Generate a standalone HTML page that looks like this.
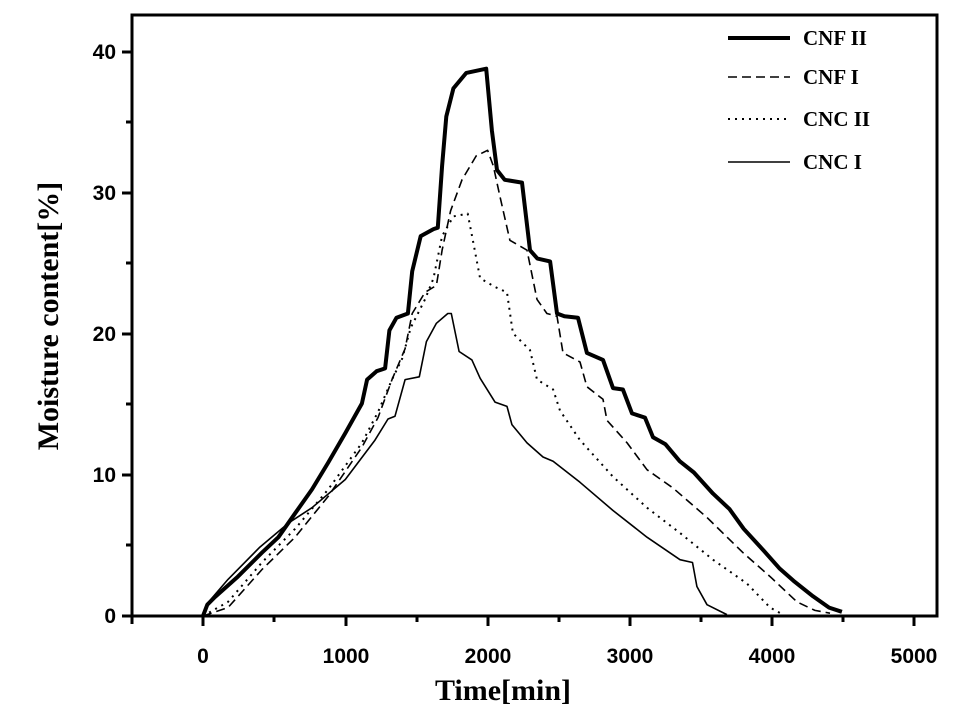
<!DOCTYPE html><html><head><meta charset="utf-8"><style>body{margin:0;background:#fff}</style></head><body>
<svg id="s" width="963" height="716" xmlns="http://www.w3.org/2000/svg" font-family="Liberation Sans, sans-serif">
<rect x="132" y="15" width="805" height="601" fill="none" stroke="#000" stroke-width="3"/>
<g stroke="#000" stroke-width="3">
<line x1="132" y1="616" x2="132" y2="624"/><line x1="203" y1="616" x2="203" y2="626"/><line x1="274" y1="616" x2="274" y2="622"/><line x1="346" y1="616" x2="346" y2="626"/><line x1="417" y1="616" x2="417" y2="622"/><line x1="488" y1="616" x2="488" y2="626"/><line x1="559" y1="616" x2="559" y2="622"/><line x1="630" y1="616" x2="630" y2="626"/><line x1="701" y1="616" x2="701" y2="622"/><line x1="772" y1="616" x2="772" y2="626"/><line x1="843" y1="616" x2="843" y2="622"/><line x1="914" y1="616" x2="914" y2="626"/>
<line x1="122" y1="616" x2="132" y2="616"/><line x1="122" y1="475" x2="132" y2="475"/><line x1="122" y1="334" x2="132" y2="334"/><line x1="122" y1="193" x2="132" y2="193"/><line x1="122" y1="52" x2="132" y2="52"/>
<line x1="126" y1="545" x2="132" y2="545"/><line x1="126" y1="404" x2="132" y2="404"/><line x1="126" y1="263" x2="132" y2="263"/><line x1="126" y1="122" x2="132" y2="122"/>
</g>
<g font-size="21" font-weight="bold" text-anchor="middle">
<text x="203" y="663">0</text><text x="346" y="663">1000</text><text x="488" y="663">2000</text><text x="630" y="663">3000</text><text x="772" y="663">4000</text><text x="914" y="663">5000</text>
</g>
<g font-size="21" font-weight="bold" text-anchor="end">
<text x="116" y="623">0</text><text x="116" y="482">10</text><text x="116" y="341">20</text><text x="116" y="200">30</text><text x="116" y="59">40</text>
</g>
<text x="503" y="700" font-family="Liberation Serif, serif" font-size="30" font-weight="bold" text-anchor="middle">Time[min]</text>
<text transform="translate(58,316) rotate(-90)" font-family="Liberation Serif, serif" font-size="30" font-weight="bold" text-anchor="middle">Moisture content[%]</text>
<g id="c" fill="none" stroke="#000" stroke-linejoin="round"></g>
<g font-family="Liberation Serif, serif" font-size="21" font-weight="bold">
<line x1="728" y1="38" x2="790" y2="38" stroke="#000" stroke-width="4"/><text x="803" y="45">CNF II</text>
<line x1="728" y1="77" x2="790" y2="77" stroke="#000" stroke-width="1.6" stroke-dasharray="9,5"/><text x="803" y="84">CNF I</text>
<line x1="728" y1="119" x2="790" y2="119" stroke="#000" stroke-width="2" stroke-dasharray="2,5"/><text x="803" y="126">CNC II</text>
<line x1="728" y1="162" x2="790" y2="162" stroke="#000" stroke-width="1.6"/><text x="803" y="169">CNC I</text>
</g>
</svg>
<script>
var X=function(t){return 203+t*0.1423},Y=function(v){return 616-v*14.07};
var S=[
[[[0,0],[30,0.8],[84,1.35],[245,2.8],[414,4.5],[530,5.6],[647,7.3],[766,9.0],[880,10.9],[1000,13],[1117,15.1],[1153,16.8],[1220,17.4],[1280,17.6],[1310,20.3],[1360,21.2],[1440,21.5],[1470,24.5],[1530,27],[1620,27.5],[1650,27.6],[1680,32],[1710,35.5],[1760,37.5],[1850,38.6],[1990,38.9],[2030,34.5],[2066,31.7],[2120,31],[2242,30.8],[2298,26],[2350,25.4],[2439,25.2],[2488,21.5],[2540,21.3],[2635,21.2],[2698,18.7],[2811,18.2],[2881,16.2],[2951,16.1],[3015,14.4],[3106,14.1],[3162,12.7],[3250,12.2],[3350,11.0],[3450,10.2],[3584,8.7],[3700,7.6],[3800,6.2],[3935,4.7],[4050,3.4],[4150,2.5],[4287,1.4],[4400,0.6],[4490,0.3]],4,""],
[[[0,0],[176,0.6],[414,3.3],[647,5.6],[880,8.5],[1117,12],[1230,14.1],[1328,16.8],[1420,19],[1470,21.5],[1560,23],[1640,23.5],[1680,26],[1740,28.8],[1820,31],[1920,32.7],[2000,33.1],[2040,32],[2087,29.8],[2157,26.7],[2277,26],[2347,22.5],[2417,21.5],[2488,21.3],[2530,18.7],[2649,18.05],[2698,16.3],[2811,15.4],[2839,13.9],[2980,12.3],[3120,10.4],[3303,9.1],[3542,7.0],[3795,4.5],[3985,2.8],[4174,1.0],[4300,0.4],[4406,0.2]],1.6,"9,5"],
[[[0,0],[176,1],[414,3.8],[647,6.2],[880,9],[1117,12.3],[1230,14.5],[1328,16.8],[1400,18.3],[1460,20.5],[1560,22.5],[1620,24],[1680,27],[1760,28.4],[1860,28.6],[1900,26.5],[1947,24],[2050,23.4],[2136,23],[2178,20.1],[2298,18.9],[2347,16.8],[2460,16.1],[2509,14.6],[2649,12.5],[2881,9.9],[3120,7.7],[3352,5.9],[3584,4.0],[3823,2.3],[3985,0.6],[4076,0.1]],2,"2,5"],
[[[0,0],[40,1],[176,2.6],[400,4.9],[600,6.6],[766,7.7],[1000,9.7],[1209,12.5],[1300,14],[1349,14.2],[1420,16.8],[1520,17],[1570,19.5],[1640,20.8],[1720,21.5],[1745,21.5],[1800,18.8],[1890,18.2],[1947,16.9],[2052,15.2],[2136,14.9],[2171,13.6],[2277,12.3],[2389,11.3],[2460,11],[2649,9.5],[2881,7.5],[3120,5.6],[3352,4.0],[3440,3.8],[3471,2.1],[3542,0.8],[3682,0.1]],1.6,""]];
var h="";
S.forEach(function(s){var p=s[0],w=s[1],d=s[2];
h+='<polyline stroke-width="'+w+'" '+(d?'stroke-dasharray="'+d+'"':'')+' points="'+p.map(function(q){return X(q[0]).toFixed(1)+","+Y(q[1]).toFixed(1)}).join(" ")+'"/>';});
document.getElementById("c").innerHTML=h;
</script>
</body></html>
